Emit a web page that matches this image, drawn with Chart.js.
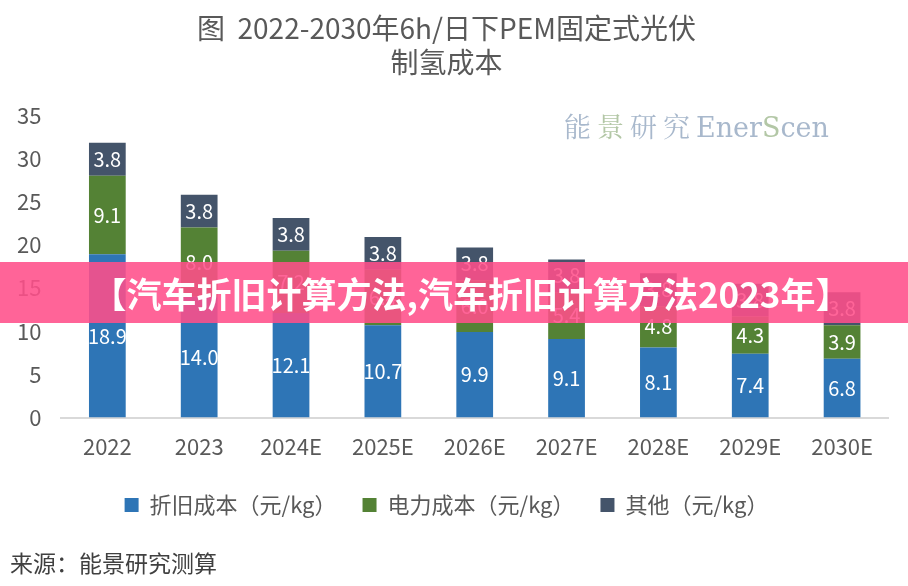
<!DOCTYPE html>
<html>
<head>
<meta charset="utf-8">
<script src="https://cdn.jsdelivr.net/npm/chart.js@4.4.0/dist/chart.umd.min.js"></script>
<style>
  html, body { margin:0; padding:0; background:#fff; }
  #wrap { position:relative; width:908px; height:586px; overflow:hidden; font-family:"Noto Sans CJK SC", sans-serif; }
  #c { position:absolute; left:0; top:0; }
  #mark { position:absolute; left:564px; top:106px; font-family:"DejaVu Serif", "Noto Serif CJK SC", serif; font-size:27px; color:#a8b8cc; }
  #mark .cn { letter-spacing:6px; }
  #mark .g { color:#b3c7a6; }
  #src { position:absolute; left:10px; top:545px; font-size:23px; color:#404040; }
  #banner { position:absolute; left:0; top:262px; width:908px; height:61px; background:rgba(255,78,138,0.88);
            color:#fff; font-weight:bold; font-size:35px; line-height:61px; text-align:center; padding-left:34px; box-sizing:border-box; white-space:nowrap; }
</style>
</head>
<body>
<div id="wrap">
  <canvas id="c" width="908" height="586"></canvas>
  <div id="mark"><span class="cn">能<span class="g">景</span>研究</span>Ener<span class="g">S</span>cen</div>
  <div id="src">来源：能景研究测算</div>
  <div id="banner">【汽车折旧计算方法,汽车折旧计算方法2023年】</div>
</div>
<script>
// 数据
const years = ['2022','2023','2024E','2025E','2026E','2027E','2028E','2029E','2030E'];
const depreciation = [18.9, 14.0, 12.1, 10.7, 9.9, 9.1, 8.1, 7.4, 6.8];
const power        = [9.1, 8.0, 7.2, 6.4, 6.0, 5.4, 4.8, 4.3, 3.9];
const others       = [3.8, 3.8, 3.8, 3.8, 3.8, 3.8, 3.8, 3.8, 3.8];
const yTicks = [0, 5, 10, 15, 20, 25, 30, 35];

const FONT = '"Noto Sans CJK SC", sans-serif';

// 柱内数值标签
const barLabels = {
  id: 'barLabels',
  afterDatasetsDraw(chart) {
    const ctx = chart.ctx;
    ctx.save();
    ctx.fillStyle = '#fff';
    ctx.font = '20px ' + FONT;
    ctx.textAlign = 'center';
    ctx.textBaseline = 'middle';
    chart.data.datasets.forEach((ds, i) => {
      chart.getDatasetMeta(i).data.forEach((el, j) => {
        ctx.fillText(ds.data[j].toFixed(1), el.x, (el.y + el.base) / 2);
      });
    });
    ctx.restore();
  }
};

new Chart(document.getElementById('c'), {
  type: 'bar',
  data: {
    labels: years,
    datasets: [
      { label:'折旧成本（元/kg）', data:depreciation, backgroundColor:'#2E75B6' },
      { label:'电力成本（元/kg）', data:power,        backgroundColor:'#548235' },
      { label:'其他（元/kg）',     data:others,       backgroundColor:'#44546A' }
    ]
  },
  options: {
    responsive:false, animation:false,
    layout: { padding: { left:5, right:20, top:6, bottom:60 } },
    datasets: { bar: { categoryPercentage:1, barPercentage:0.4 } },
    plugins: {
      title: { display:true, text:['图  2022-2030年6h/日下PEM固定式光伏','制氢成本'],
               color:'#595959', font:{ family:FONT, size:28, weight:'normal', lineHeight:1.2 }, padding:{ top:6, bottom:36 } },
      legend: { position:'bottom',
                labels:{ color:'#595959', font:{ family:FONT, size:22 }, boxWidth:14, boxHeight:14, padding:26 } },
      tooltip: { enabled:false }
    },
    scales: {
      x: { stacked:true, grid:{ display:false }, border:{ color:'#d9d9d9', width:2 },
           ticks:{ color:'#595959', font:{ family:FONT, size:22 }, padding:8 } },
      y: { stacked:true, min:0, max:35, afterBuildTicks: ax => { ax.ticks = yTicks.map(v => ({ value:v })); },
           grid:{ display:false }, border:{ display:false },
           ticks:{ color:'#595959', font:{ family:FONT, size:22 }, padding:12 } }
    }
  },
  plugins: [barLabels]
});
</script>
</body>
</html>
